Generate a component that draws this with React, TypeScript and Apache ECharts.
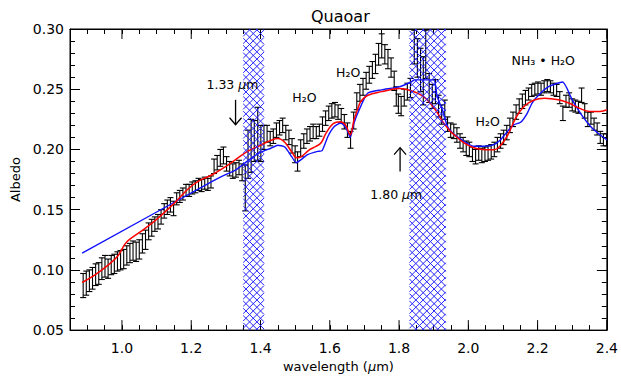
import React, { useEffect, useRef } from "react";
import * as echarts from "echarts";

// ---- data ----
const wavelengths = [
  0.888, 0.897, 0.906, 0.915, 0.924, 0.933, 0.942, 0.951, 0.960, 0.969,
  0.978, 0.987, 0.996, 1.005, 1.014, 1.023, 1.032, 1.041, 1.050, 1.059,
  1.068, 1.077, 1.086, 1.095, 1.104, 1.113, 1.122, 1.131, 1.140, 1.149,
  1.158, 1.167, 1.176, 1.185, 1.194, 1.203, 1.212, 1.221, 1.230, 1.239,
  1.248, 1.257, 1.266, 1.275, 1.284, 1.293, 1.302, 1.311, 1.320, 1.329,
  1.338, 1.347, 1.356, 1.364, 1.373, 1.382, 1.392, 1.401, 1.410, 1.419,
  1.428, 1.437, 1.446, 1.455, 1.464, 1.473, 1.482, 1.491, 1.500, 1.507,
  1.516, 1.525, 1.534, 1.543, 1.552, 1.561, 1.570, 1.579, 1.588, 1.597,
  1.606, 1.615, 1.624, 1.633, 1.642, 1.651, 1.660, 1.669, 1.678, 1.687,
  1.696, 1.705, 1.714, 1.723, 1.732, 1.741, 1.750, 1.759, 1.768, 1.777,
  1.786, 1.792, 1.798, 1.806, 1.815, 1.824, 1.833, 1.844, 1.853, 1.862,
  1.870, 1.877, 1.887, 1.896, 1.905, 1.914, 1.923, 1.932, 1.940, 1.949,
  1.958, 1.967, 1.976, 1.985, 1.994, 2.003, 2.012, 2.021, 2.030, 2.039,
  2.048, 2.057, 2.066, 2.075, 2.084, 2.093, 2.102, 2.111, 2.120, 2.129,
  2.138, 2.147, 2.156, 2.165, 2.174, 2.183, 2.192, 2.201, 2.210, 2.219,
  2.228, 2.237, 2.246, 2.255, 2.264, 2.273, 2.282, 2.291, 2.300, 2.309,
  2.318, 2.327, 2.336, 2.345, 2.354, 2.363, 2.372, 2.381, 2.390, 2.399,
];
const albedo = [
  0.087, 0.089, 0.091, 0.093, 0.096, 0.097, 0.101, 0.103, 0.101, 0.104,
  0.105, 0.107, 0.108, 0.109, 0.112, 0.114, 0.116, 0.115, 0.117, 0.122,
  0.125, 0.132, 0.135, 0.138, 0.140, 0.144, 0.149, 0.152, 0.154, 0.151,
  0.159, 0.161, 0.163, 0.166, 0.166, 0.168, 0.169, 0.171, 0.170, 0.172,
  0.171, 0.173, 0.186, 0.189, 0.193, 0.195, 0.188, 0.184, 0.182, 0.183,
  0.185, 0.181, 0.168, 0.196, 0.203, 0.207, 0.213, 0.205, 0.210, 0.213,
  0.209, 0.211, 0.216, 0.218, 0.220, 0.214, 0.210, 0.203, 0.196, 0.190,
  0.201, 0.207, 0.211, 0.213, 0.215, 0.214, 0.216, 0.221, 0.226, 0.230,
  0.232, 0.233, 0.231, 0.228, 0.223, 0.216, 0.208, 0.224, 0.240, 0.247,
  0.252, 0.257, 0.262, 0.266, 0.271, 0.279, 0.286, 0.279, 0.275, 0.268,
  0.257, 0.244, 0.238, 0.236, 0.243, 0.248, 0.251, 0.285, 0.276, 0.266,
  0.257, 0.279, 0.251, 0.244, 0.248, 0.236, 0.229, 0.233, 0.221, 0.216,
  0.215, 0.212, 0.207, 0.204, 0.201, 0.200, 0.196, 0.194, 0.197, 0.195,
  0.196, 0.197, 0.198, 0.200, 0.204, 0.207, 0.210, 0.214, 0.220, 0.225,
  0.231, 0.236, 0.240, 0.243, 0.246, 0.249, 0.250, 0.251, 0.250, 0.252,
  0.253, 0.252, 0.250, 0.249, 0.243, 0.230, 0.240, 0.241, 0.237, 0.236,
  0.235, 0.245, 0.232, 0.225, 0.226, 0.221, 0.217, 0.210, 0.208, 0.208,
];
const albedoErr = [
  0.010, 0.010, 0.009, 0.009, 0.009, 0.009, 0.009, 0.009, 0.008, 0.008,
  0.008, 0.008, 0.008, 0.008, 0.008, 0.008, 0.008, 0.008, 0.008, 0.008,
  0.008, 0.007, 0.007, 0.006, 0.006, 0.006, 0.006, 0.006, 0.006, 0.006,
  0.005, 0.005, 0.005, 0.005, 0.005, 0.005, 0.005, 0.005, 0.005, 0.005,
  0.005, 0.005, 0.006, 0.006, 0.007, 0.007, 0.006, 0.006, 0.006, 0.006,
  0.006, 0.007, 0.019, 0.020, 0.022, 0.017, 0.022, 0.015, 0.010, 0.007,
  0.006, 0.006, 0.006, 0.006, 0.006, 0.006, 0.006, 0.006, 0.007, 0.008,
  0.007, 0.006, 0.006, 0.006, 0.006, 0.005, 0.005, 0.006, 0.006, 0.006,
  0.006, 0.006, 0.006, 0.006, 0.006, 0.006, 0.007, 0.007, 0.007, 0.007,
  0.007, 0.007, 0.007, 0.007, 0.008, 0.009, 0.010, 0.008, 0.008, 0.008,
  0.008, 0.008, 0.008, 0.008, 0.007, 0.007, 0.008, 0.014, 0.016, 0.018,
  0.020, 0.020, 0.012, 0.010, 0.010, 0.009, 0.008, 0.008, 0.006, 0.006,
  0.006, 0.006, 0.006, 0.006, 0.006, 0.006, 0.006, 0.006, 0.006, 0.006,
  0.006, 0.006, 0.006, 0.006, 0.006, 0.006, 0.006, 0.006, 0.006, 0.006,
  0.006, 0.006, 0.006, 0.006, 0.005, 0.005, 0.005, 0.005, 0.005, 0.005,
  0.005, 0.005, 0.005, 0.005, 0.005, 0.006, 0.005, 0.006, 0.005, 0.005,
  0.005, 0.006, 0.006, 0.006, 0.005, 0.005, 0.005, 0.005, 0.005, 0.005,
];

const redModelX = [
  0.885, 0.92, 0.96, 0.988, 1.008, 1.022, 1.056, 1.094, 1.15, 1.19,
  1.22, 1.26, 1.30, 1.33, 1.36, 1.40, 1.43, 1.45, 1.47, 1.49,
  1.505, 1.52, 1.54, 1.56, 1.575, 1.59, 1.61, 1.63, 1.645, 1.659,
  1.67, 1.68, 1.69, 1.71, 1.75, 1.80, 1.825, 1.855, 1.88, 1.905,
  1.925, 1.945, 1.96, 1.99, 2.02, 2.05, 2.075, 2.095, 2.115, 2.135,
  2.16, 2.19, 2.22, 2.26, 2.29, 2.32, 2.35, 2.38, 2.40,
];
const redModelY = [
  0.0895, 0.0955, 0.104, 0.1115, 0.1212, 0.1253, 0.1322, 0.1405, 0.155, 0.167,
  0.1735, 0.179, 0.186, 0.192, 0.198, 0.2035, 0.2075, 0.209, 0.206, 0.198,
  0.193, 0.1945, 0.1995, 0.2025, 0.2055, 0.214, 0.2215, 0.223, 0.2205, 0.2123,
  0.2247, 0.233, 0.240, 0.245, 0.248, 0.2505, 0.2495, 0.2465, 0.2415, 0.233,
  0.2235, 0.216, 0.212, 0.205, 0.201, 0.1998, 0.1998, 0.204, 0.2125, 0.225,
  0.2355, 0.241, 0.2425, 0.2412, 0.2385, 0.2343, 0.2316, 0.2316, 0.233,
];

const blueModelX = [
  0.885, 1.262, 1.29, 1.33, 1.37, 1.40, 1.43, 1.45, 1.47, 1.49,
  1.503, 1.517, 1.536, 1.565, 1.578, 1.595, 1.613, 1.632, 1.647, 1.659,
  1.67, 1.685, 1.71, 1.75, 1.80, 1.835, 1.845, 1.90, 1.91, 1.925,
  1.94, 1.96, 1.988, 2.016, 2.045, 2.074, 2.093, 2.113, 2.132, 2.151,
  2.17, 2.184, 2.204, 2.233, 2.272, 2.30, 2.33, 2.357, 2.386, 2.40,
];
const blueModelY = [
  0.114, 0.1736, 0.1778, 0.1833, 0.192, 0.1975, 0.201, 0.2035, 0.202, 0.194,
  0.189, 0.1915, 0.1957, 0.1984, 0.199, 0.211, 0.219, 0.2219, 0.2178, 0.210,
  0.2219, 0.233, 0.2468, 0.2495, 0.252, 0.256, 0.2578, 0.2578, 0.244, 0.233,
  0.219, 0.2123, 0.2067, 0.2026, 0.2026, 0.204, 0.2081, 0.215, 0.2205, 0.2225,
  0.230, 0.2385, 0.2454, 0.2523, 0.256, 0.2412, 0.2274, 0.2178, 0.2109, 0.208,
];

const bandStarts = [1.35, 1.83];
const bandEnds = [1.41, 1.935];

const xMajorTicks = [1.0, 1.2, 1.4, 1.6, 1.8, 2.0, 2.2, 2.4];

const FONT = "DejaVu Sans";

export default function App() {
  const ref = useRef<HTMLDivElement>(null);

  useEffect(() => {
    if (!ref.current) return;
    const chart = echarts.init(ref.current, null, { renderer: "svg" });

    const errData = wavelengths.map((w, i) => [
      w,
      albedo[i] - albedoErr[i],
      albedo[i] + albedoErr[i],
    ]);
    const redData = redModelX.map((x, i) => [x, redModelY[i]]);
    const blueData = blueModelX.map((x, i) => [x, blueModelY[i]]);
    const bandData = bandStarts.map((s, i) => [s, bandEnds[i]]);
    const majorTickData = xMajorTicks.map((v) => [v, 0.3]);

    const annotations: any[] = [
      { kind: "text", x: 1.244, y: 0.2536, text: "1.33 {i|μ}m" },
      { kind: "text", x: 1.717, y: 0.1626, text: "1.80 {i|μ}m" },
      { kind: "text", x: 1.492, y: 0.2429, text: "H₂O" },
      { kind: "text", x: 1.618, y: 0.2638, text: "H₂O" },
      { kind: "text", x: 2.021, y: 0.2233, text: "H₂O" },
      { kind: "text", x: 2.125, y: 0.2735, text: "NH₃ • H₂O" },
      { kind: "arrowDown", x: 1.328, y: 0.2412, y2: 0.2205 },
      { kind: "arrowUp", x: 1.803, y: 0.1816, y2: 0.2015 },
    ];

    const isMajor = (v: number) => Math.abs(v * 5 - Math.round(v * 5)) < 1e-6 && v > 0.95;

    const option: any = {
      animation: false,
      backgroundColor: "#fff",
      title: {
        text: "Quaoar",
        left: 306,
        top: 3,
        textStyle: { fontFamily: FONT, fontSize: 16, fontWeight: "normal", color: "#000" },
      },
      grid: {
        left: 70,
        right: 11,
        top: 29,
        bottom: 47,
        show: true,
        borderColor: "#000",
        borderWidth: 1,
        backgroundColor: "transparent",
      },
      xAxis: [
        {
          type: "value",
          position: "bottom",
          min: 0.85,
          max: 2.4,
          interval: 0.05,
          axisLine: { show: true, lineStyle: { color: "#000", width: 1 } },
          axisTick: { show: true, inside: true, length: 5, lineStyle: { color: "#000", width: 1 } },
          axisLabel: {
            formatter: (v: number) => (isMajor(v) ? v.toFixed(1) : ""),
            color: "#000",
            fontFamily: FONT,
            fontSize: 14,
            margin: 11,
          },
          splitLine: { show: false },
          name: "wavelength ({i|μ}m)",
          nameLocation: "middle",
          nameGap: 27,
          nameTextStyle: {
            fontFamily: FONT,
            fontSize: 13,
            color: "#000",
            rich: { i: { fontFamily: FONT, fontSize: 13, fontStyle: "italic", color: "#000" } },
          },
        },
        {
          type: "value",
          position: "top",
          min: 0.85,
          max: 2.4,
          interval: 0.05,
          axisLine: { show: true, lineStyle: { color: "#000", width: 1 } },
          axisTick: { show: true, inside: true, length: 5, lineStyle: { color: "#000", width: 1 } },
          axisLabel: { show: false },
          splitLine: { show: false },
        },
      ],
      yAxis: [
        {
          type: "value",
          position: "left",
          min: 0.05,
          max: 0.3,
          interval: 0.05,
          axisLine: { show: true, lineStyle: { color: "#000", width: 1 } },
          axisTick: { inside: true, length: 10, lineStyle: { color: "#000", width: 1 } },
          minorTick: { show: true, splitNumber: 5, length: 5, lineStyle: { color: "#000", width: 1 } },
          axisLabel: {
            formatter: (v: number) => v.toFixed(2),
            color: "#000",
            fontFamily: FONT,
            fontSize: 14,
            margin: 6,
          },
          splitLine: { show: false },
          name: "Albedo",
          nameLocation: "middle",
          nameGap: 45,
          nameTextStyle: { fontFamily: FONT, fontSize: 13, color: "#000" },
        },
        {
          type: "value",
          position: "right",
          min: 0.05,
          max: 0.3,
          interval: 0.05,
          axisLine: { show: true, lineStyle: { color: "#000", width: 1 } },
          axisTick: { inside: true, length: 10, lineStyle: { color: "#000", width: 1 } },
          minorTick: { show: true, splitNumber: 5, length: 5, lineStyle: { color: "#000", width: 1 } },
          axisLabel: { show: false },
          splitLine: { show: false },
        },
      ],
      series: [
        {
          name: "major ticks",
          type: "custom",
          xAxisIndex: 0,
          yAxisIndex: 0,
          z: 2,
          clip: false,
          silent: true,
          data: majorTickData,
          encode: { x: 0, y: 1 },
          renderItem: (params: any, api: any) => {
            const cs = params.coordSys;
            const x = api.coord([api.value(0), 0.3])[0];
            const yb = cs.y + cs.height;
            const st = { stroke: "#000", lineWidth: 1 };
            return {
              type: "group",
              children: [
                { type: "line", shape: { x1: x, y1: yb, x2: x, y2: yb - 10 }, style: st },
                { type: "line", shape: { x1: x, y1: cs.y, x2: x, y2: cs.y + 10 }, style: st },
              ],
            };
          },
        },
        {
          name: "data",
          type: "custom",
          xAxisIndex: 0,
          yAxisIndex: 0,
          clip: true,
          z: 3,
          data: errData,
          encode: { x: 0, y: [1, 2] },
          renderItem: (params: any, api: any) => {
            const xv = api.value(0);
            const lo = api.coord([xv, api.value(1)]);
            const hi = api.coord([xv, api.value(2)]);
            const cw = 3;
            const st = { stroke: "#000", lineWidth: 1.1 };
            return {
              type: "group",
              children: [
                { type: "line", shape: { x1: lo[0], y1: lo[1], x2: hi[0], y2: hi[1] }, style: st },
                { type: "line", shape: { x1: lo[0] - cw, y1: lo[1], x2: lo[0] + cw, y2: lo[1] }, style: st },
                { type: "line", shape: { x1: hi[0] - cw, y1: hi[1], x2: hi[0] + cw, y2: hi[1] }, style: st },
              ],
            };
          },
        },
        {
          name: "model A",
          type: "line",
          xAxisIndex: 0,
          yAxisIndex: 0,
          data: blueData,
          symbol: "none",
          smooth: 0.2,
          z: 4,
          lineStyle: { color: "#1010ff", width: 1.4 },
        },
        {
          name: "model B",
          type: "line",
          xAxisIndex: 0,
          yAxisIndex: 0,
          data: redData,
          symbol: "none",
          smooth: 0.4,
          z: 5,
          lineStyle: { color: "#ff0000", width: 1.5 },
        },
        {
          name: "bands",
          type: "custom",
          xAxisIndex: 0,
          yAxisIndex: 0,
          z: 6,
          data: bandData,
          encode: { x: [0, 1] },
          renderItem: (params: any, api: any) => {
            const cs = params.coordSys;
            const x0 = api.coord([api.value(0), 0.3])[0];
            const x1 = api.coord([api.value(1), 0.3])[0];
            const yTop = cs.y;
            const h = cs.height;
            const w = x1 - x0;
            const step = 7.3;
            const st = { stroke: "#2222ff", lineWidth: 1 };
            const children: any[] = [];
            for (let c = -h; c <= w; c += step) {
              const t0 = Math.max(0, -c);
              const t1 = Math.min(h, w - c);
              if (t1 > t0)
                children.push({
                  type: "line",
                  shape: { x1: x0 + c + t0, y1: yTop + t0, x2: x0 + c + t1, y2: yTop + t1 },
                  style: st,
                });
            }
            for (let c = 0; c <= w + h; c += step) {
              const t0 = Math.max(0, c - w);
              const t1 = Math.min(h, c);
              if (t1 > t0)
                children.push({
                  type: "line",
                  shape: { x1: x0 + c - t0, y1: yTop + t0, x2: x0 + c - t1, y2: yTop + t1 },
                  style: st,
                });
            }
            return { type: "group", children };
          },
        },
        {
          name: "annotations",
          type: "custom",
          xAxisIndex: 0,
          yAxisIndex: 0,
          z: 7,
          clip: false,
          data: annotations.map((a) => [a.x, a.y]),
          encode: { x: 0, y: 1 },
          renderItem: (params: any, api: any) => {
            const a = annotations[params.dataIndex];
            const p = api.coord([a.x, a.y]);
            if (a.kind === "text") {
              return {
                type: "text",
                x: p[0],
                y: p[1],
                style: {
                  text: a.text,
                  fontFamily: FONT,
                  fontSize: 12.5,
                  fill: "#000",
                  align: "left",
                  verticalAlign: "middle",
                  rich: { i: { fontFamily: FONT, fontSize: 12.5, fontStyle: "italic", fill: "#000" } },
                },
              };
            }
            const q = api.coord([a.x, a.y2]);
            const dir = a.kind === "arrowDown" ? -1 : 1;
            const st = { stroke: "#000", lineWidth: 1.3, fill: "none" };
            return {
              type: "group",
              children: [
                { type: "line", shape: { x1: p[0], y1: p[1], x2: q[0], y2: q[1] }, style: st },
                {
                  type: "polyline",
                  shape: {
                    points: [
                      [q[0] - 6, q[1] + dir * 7],
                      [q[0], q[1]],
                      [q[0] + 6, q[1] + dir * 7],
                    ],
                  },
                  style: st,
                },
              ],
            };
          },
        },
      ],
    };

    chart.setOption(option);
    return () => chart.dispose();
  }, []);

  return (
    <div
      ref={ref}
      style={{ position: "fixed", left: 0, top: 0, width: 621, height: 378, background: "#fff" }}
    />
  );
}
